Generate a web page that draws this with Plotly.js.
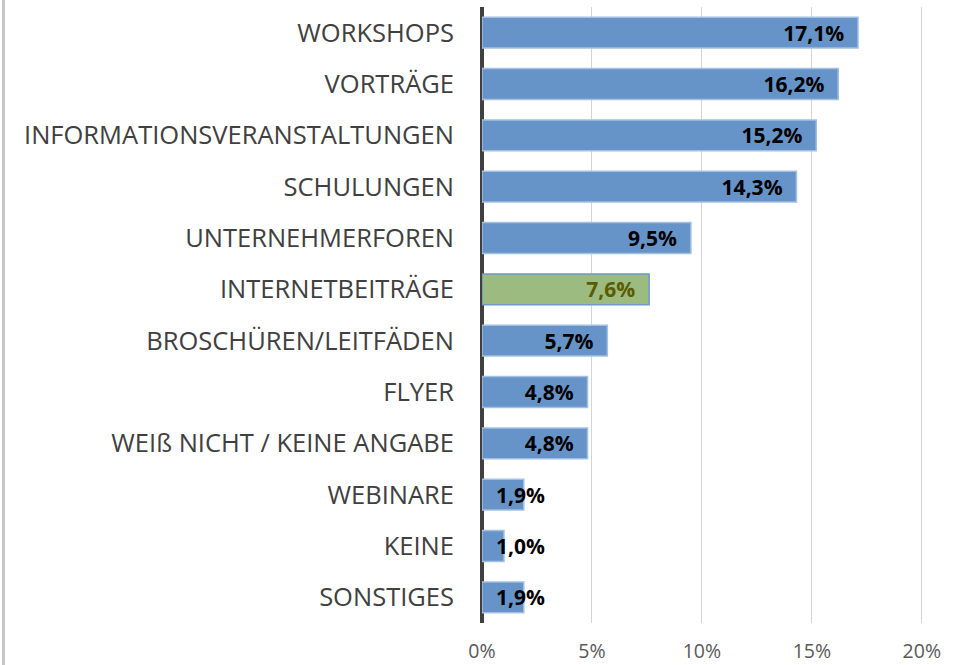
<!DOCTYPE html>
<html>
<head>
<meta charset="utf-8">
<script src="https://cdn.plot.ly/plotly-3.0.1.min.js"></script>
<style>
  html, body { margin: 0; padding: 0; background: #ffffff; }
  #wrap { position: relative; width: 953px; height: 665px; overflow: hidden; }
  #chart { width: 953px; height: 665px; }
  #edge { position: absolute; left: 2px; top: 0; width: 3px; height: 665px; background: #c6c6c6; }
</style>
</head>
<body>
<div id="wrap">
  <div id="chart"></div>
  <div id="edge"></div>
</div>
<script>
// ---- data ----
var categories = [
  "WORKSHOPS",
  "VORTRÄGE",
  "INFORMATIONSVERANSTALTUNGEN",
  "SCHULUNGEN",
  "UNTERNEHMERFOREN",
  "INTERNETBEITRÄGE",
  "BROSCHÜREN/LEITFÄDEN",
  "FLYER",
  "WEIß NICHT / KEINE ANGABE",
  "WEBINARE",
  "KEINE",
  "SONSTIGES"
];
var values = [17.1, 16.2, 15.2, 14.3, 9.5, 7.6, 5.7, 4.8, 4.8, 1.9, 1.0, 1.9];
var highlighted = "INTERNETBEITRÄGE";
var tickValues = [0, 5, 10, 15, 20];
var tickLabels = ["0%", "5%", "10%", "15%", "20%"];

// ---- styling ----
var FONT = "Open Sans, Liberation Sans, Arial, sans-serif";
var BLUE = "#6794c8";
var BLUE_LINE = "#a3c0e2";
var GREEN = "#9bbb80";
var GREEN_LINE = "#6f98cc";
var NB = "\u00a0";
var SMALL_LIMIT = 3;

function buildTrace(filterFn, anchor, template) {
  var y = [], x = [], fill = [], line = [], tcol = [];
  for (var i = 0; i < categories.length; i++) {
    if (!filterFn(values[i])) continue;
    var hl = categories[i] === highlighted;
    y.push(categories[i]);
    x.push(values[i]);
    fill.push(hl ? GREEN : BLUE);
    line.push(hl ? GREEN_LINE : BLUE_LINE);
    tcol.push(hl ? "#5b5b00" : "#000000");
  }
  return {
    type: "bar",
    orientation: "h",
    x: x,
    y: y,
    width: 0.6,
    marker: { color: fill, line: { color: line, width: 1.5 } },
    texttemplate: template,
    textposition: "inside",
    insidetextanchor: anchor,
    textangle: 0,
    constraintext: "none",
    cliponaxis: false,
    textfont: { family: FONT, size: 21, weight: "bold", color: tcol },
    hoverinfo: "skip",
    showlegend: false
  };
}

var traceBig = buildTrace(function (v) { return v >= SMALL_LIMIT; }, "end", "%{x:.1f}%" + NB + NB);
var traceSmall = buildTrace(function (v) { return v < SMALL_LIMIT; }, "start", NB + NB + "%{x:.1f}%");

var layout = {
  width: 953,
  height: 665,
  margin: { l: 482, r: 29, t: 7, b: 42, pad: 0 },
  paper_bgcolor: "#ffffff",
  plot_bgcolor: "#ffffff",
  separators: ",.",
  barmode: "overlay",
  font: { family: FONT, color: "#404040" },
  xaxis: {
    range: [0, 20.1],
    tickvals: tickValues,
    ticktext: tickLabels,
    showgrid: true,
    gridcolor: "#d4d4d4",
    gridwidth: 1,
    zeroline: true,
    zerolinecolor: "#404040",
    zerolinewidth: 3.5,
    showline: false,
    ticks: "",
    ticklabelstandoff: 14,
    tickfont: { family: FONT, size: 19.5, color: "#595959" },
    fixedrange: true
  },
  yaxis: {
    type: "category",
    categoryorder: "array",
    categoryarray: categories,
    autorange: "reversed",
    showgrid: false,
    zeroline: false,
    showline: false,
    ticks: "",
    ticklabelstandoff: 27,
    tickfont: { family: FONT, size: 25.5, color: "#404040" },
    fixedrange: true
  }
};

Plotly.newPlot("chart", [traceBig, traceSmall], layout, { displayModeBar: false, staticPlot: true });
</script>
</body>
</html>
